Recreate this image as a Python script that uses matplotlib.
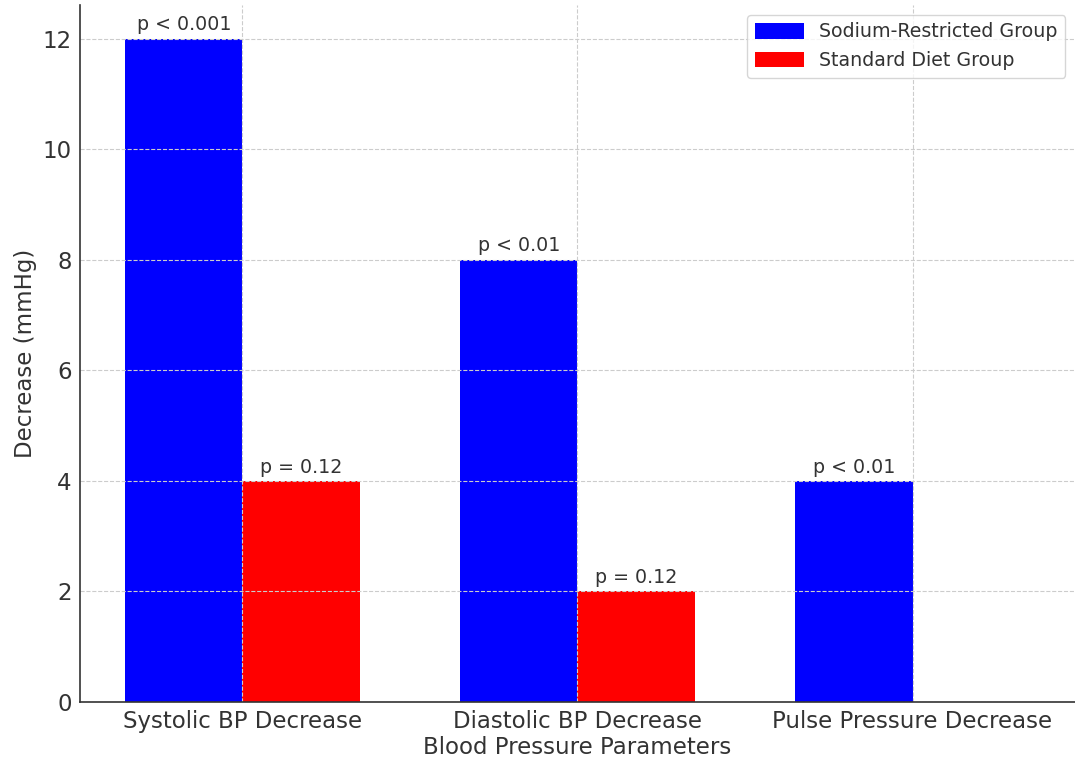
import numpy as np
import matplotlib.pyplot as plt

categories = ["Systolic BP Decrease", "Diastolic BP Decrease", "Pulse Pressure Decrease"]
sodium = [12, 8, 4]
standard = [4, 2, 0]
sodium_p = ["p < 0.001", "p < 0.01", "p < 0.01"]
standard_p = ["p = 0.12", "p = 0.12", ""]

plt.rcParams["text.color"] = "#333333"
plt.rcParams["axes.labelcolor"] = "#333333"
plt.rcParams["xtick.color"] = "#333333"
plt.rcParams["ytick.color"] = "#333333"

x = np.arange(len(categories))
width = 0.35

fig, ax = plt.subplots(figsize=(10.75, 7.67), dpi=100)
fig.subplots_adjust(left=0.0744, right=1.0, bottom=0.085, top=0.993)

b1 = ax.bar(x - width / 2, sodium, width, color="blue", label="Sodium-Restricted Group")
b2 = ax.bar(x + width / 2, standard, width, color="red", label="Standard Diet Group")

# p-values above each bar
for bars, labels in [(b1, sodium_p), (b2, standard_p)]:
    for rect, lab in zip(bars, labels):
        if not lab:
            continue
        ax.annotate(lab, (rect.get_x() + rect.get_width() / 2, rect.get_height()),
                    xytext=(0, 3), textcoords="offset points",
                    ha="center", va="bottom", fontsize=13.7)

ax.set_xticks(x)
ax.set_xticklabels(categories, fontsize=16.5)
ax.tick_params(axis="y", labelsize=16.5)
ax.tick_params(length=0, pad=6)
ax.set_xlabel("Blood Pressure Parameters", fontsize=16.5, labelpad=2)
ax.set_ylabel("Decrease (mmHg)", fontsize=16.5)

ax.grid(True, linestyle="--", color="#cccccc", linewidth=0.8)
ax.spines["top"].set_visible(False)
ax.spines["right"].set_visible(False)
ax.spines["left"].set_color("#333333")
ax.spines["bottom"].set_color("#333333")
ax.spines["left"].set_linewidth(1.2)
ax.spines["bottom"].set_linewidth(1.2)

ax.legend(loc="upper right", fontsize=13.7, handlelength=2.6, handleheight=0.9)

plt.savefig("out.png")
